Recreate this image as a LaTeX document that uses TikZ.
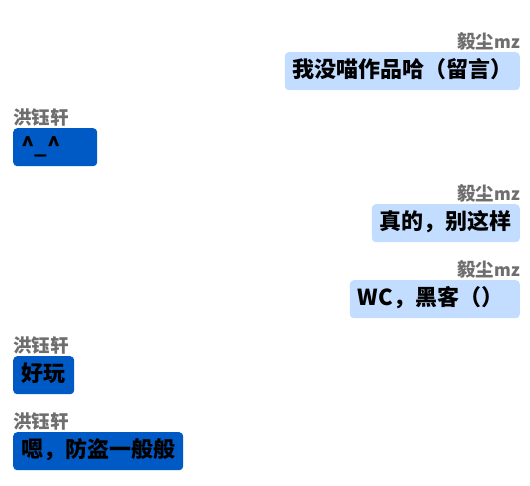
\documentclass[tikz,border=0pt]{standalone}
\usepackage{fontspec}
\setmainfont{Noto Sans CJK SC}
\definecolor{mine}{HTML}{C2DDFF}
\definecolor{theirs}{HTML}{005AC6}
\definecolor{namegray}{HTML}{6E6E6E}
\newcommand{\mzname}{毅尘{\fontsize{17}{18}\selectfont mz}}
\begin{document}
\begin{tikzpicture}[x=1pt,y=-1pt,
  msg/.style={rounded corners=4pt, inner xsep=8pt, inner ysep=0pt,
    minimum height=38pt, text height=17pt, text depth=4pt,
    font=\fontsize{22}{24}\selectfont\bfseries, text=black, align=left},
  right msg/.style={msg, fill=mine, anchor=north east},
  left msg/.style={msg, fill=theirs, anchor=north west},
  who/.style={inner sep=0pt, font=\fontsize{18.5}{20}\selectfont\bfseries, text=namegray}]
\useasboundingbox (0,0) rectangle (530,485);
\fill[white] (0,0) rectangle (530,485);
% message 1
\node[right msg, text width=219pt] (m1) at (520,52) {我没喵作品哈（留言）};
\node[who, anchor=base east] (n1) at (520,48) {\mzname};
% message 2
\node[left msg, text width=68pt] (m2) at (13,128) {\^{}\_\^{}};
\node[who, anchor=base west] (n2) at (13,124) {洪钰轩};
% message 3
\node[right msg, text width=132pt] (m3) at (520,204) {真的，别这样};
\node[who, anchor=base east] (n3) at (520,200) {\mzname};
% message 4
\node[right msg, text width=154pt] (m4) at (520,280) {WC，黑客（）};
\node[who, anchor=base east] (n4) at (520,276) {\mzname};
% message 5
\node[left msg, text width=45pt] (m5) at (13,356) {好玩};
\node[who, anchor=base west] (n5) at (13,352) {洪钰轩};
% message 6
\node[left msg, text width=154pt] (m6) at (13,432) {嗯，防盗一般般};
\node[who, anchor=base west] (n6) at (13,428) {洪钰轩};
\end{tikzpicture}
\end{document}
